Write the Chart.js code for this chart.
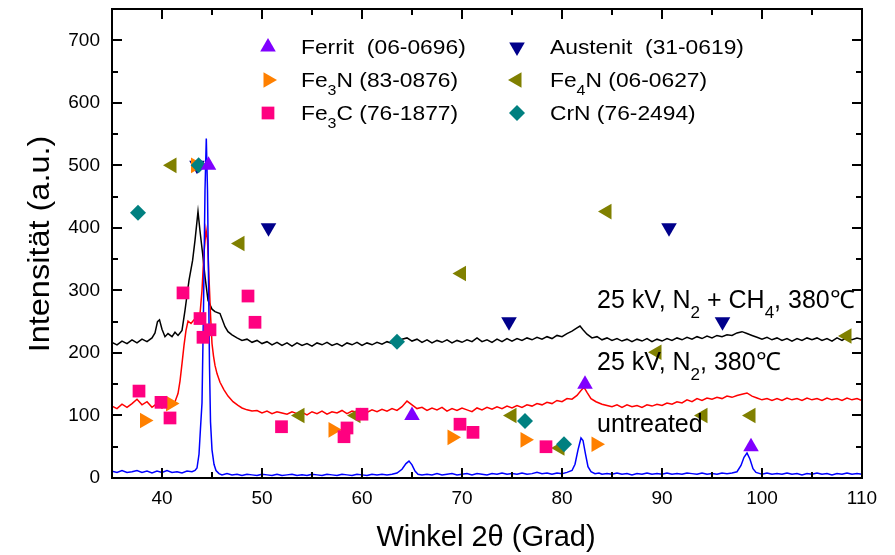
<!DOCTYPE html>
<html>
<head>
<meta charset="utf-8">
<script src="https://cdn.jsdelivr.net/npm/chart.js@4"></script>
<style>
  body { margin: 0; background: #fff; }
  canvas { display: block; }
</style>
</head>
<body>
<canvas id="xrd" width="895" height="555"></canvas>
<script>
const FONT = '"Liberation Sans", Arial, sans-serif';

// tick positions
const xTicks = [40, 50, 60, 70, 80, 90, 100, 110];
const xMinor = [35, 45, 55, 65, 75, 85, 95, 105];
const yTicks = [0, 100, 200, 300, 400, 500, 600, 700];
const yMinor = [50, 150, 250, 350, 450, 550, 650];

// measured curves [2theta, intensity]
const untreated = [
  [35,11],[35.5,9],[36,12],[36.5,9],[37,10],[37.5,12],[38,9],[38.5,11],[39,8],[39.5,11],[40,9],[40.5,12],[41,9],[41.5,10],[42,8],[42.5,11],[43,10],
  [43.3,12],[43.5,16],[43.7,38],[43.85,80],[44,120],[44.15,270],[44.3,460],[44.43,543],[44.55,460],[44.65,320],[44.75,180],[44.85,90],[45,45],[45.2,22],[45.4,12],[45.7,7],
  [46,5],[46.5,7],[47,5],[47.5,6],[48,4],[48.5,6],[49,5],[49.5,4],[50,6],[50.5,5],[51,4],[51.5,6],[52,4],[52.5,5],[53,6],[53.5,4],[54,5],[54.5,4],[55,6],
  [55.5,5],[56,4],[56.5,6],[57,5],[57.5,4],[58,6],[58.5,5],[59,4],[59.5,6],[60,5],[60.5,4],[61,6],[61.5,5],[62,6],[62.5,5],[63,6],[63.5,8],
  [64,14],[64.4,23],[64.7,27],[65,21],[65.3,11],[65.6,6],[66,5],[66.5,6],[67,5],[67.5,7],[68,5],[68.5,6],[69,7],[69.5,5],[70,6],[70.5,7],[71,5],
  [71.5,7],[72,6],[72.5,5],[73,7],[73.5,6],[74,8],[74.5,6],[75,7],[75.5,6],[76,8],[76.5,6],[77,7],[77.5,9],[78,7],[78.5,8],[79,6],[79.5,8],[80,7],[80.5,9],
  [81,12],[81.3,22],[81.6,45],[81.9,64],[82.1,60],[82.35,38],[82.6,18],[82.9,10],[83.3,7],[83.7,8],[84,6],[84.5,7],[85,6],[85.5,8],[86,6],[86.5,7],[87,5],
  [87.5,7],[88,6],[88.5,8],[89,6],[89.5,7],[90,6],[90.5,8],[91,6],[91.5,7],[92,6],[92.5,8],[93,7],[93.5,6],[94,8],[94.5,6],[95,7],[95.5,6],[96,8],[96.5,7],
  [97,8],[97.5,10],[97.9,20],[98.2,33],[98.5,40],[98.8,30],[99.1,15],[99.4,9],[99.8,7],[100,6],[100.5,8],[101,6],[101.5,7],[102,6],[102.5,8],[103,6],
  [103.5,7],[104,5],[104.5,7],[105,6],[105.5,8],[106,6],[106.5,7],[107,5],[107.5,7],[108,6],[108.5,8],[109,6],[109.5,7],[110,6]
];
const nitrided = [
  [35,115],[35.5,111],[36,118],[36.5,113],[37,119],[37.5,126],[38,117],[38.5,122],[39,113],[39.5,119],[40,112],[40.5,120],[41,115],[41.3,122],[41.6,135],
  [41.8,155],[42,183],[42.2,212],[42.4,236],[42.6,251],[42.9,247],[43.2,253],[43.5,255],[43.8,262],[44,300],[44.2,360],[44.4,397],[44.55,380],[44.7,320],
  [44.85,262],[45,215],[45.15,195],[45.3,180],[45.5,167],[45.8,153],[46.2,141],[46.6,131],[47.1,122],[47.6,116],[48,112],[48.5,109],[49,107],[49.5,108],
  [50,104],[50.5,107],[51,103],[51.5,106],[52,104],[52.5,102],[53,106],[53.5,103],[54,105],[54.5,101],[55,106],[55.5,103],[56,107],[56.5,102],[57,106],
  [57.5,104],[58,108],[58.5,103],[59,107],[59.5,105],[60,108],[60.5,105],[61,109],[61.5,106],[62,110],[62.5,107],[63,111],[63.5,108],[64,114],[64.5,123],
  [65,117],[65.5,111],[66,113],[66.5,108],[67,112],[67.5,109],[68,113],[68.5,107],[69,111],[69.5,108],[70,112],[70.5,109],[71,106],[71.5,112],[72,109],
  [72.5,113],[73,110],[73.5,114],[74,111],[74.5,115],[75,112],[75.5,116],[76,113],[76.5,117],[77,115],[77.5,119],[78,117],[78.5,121],[79,119],[79.5,124],
  [80,122],[80.5,127],[81,126],[81.5,132],[81.9,140],[82.2,145],[82.5,137],[82.9,127],[83.4,122],[84,118],[84.5,116],[85,114],[85.5,117],[86,113],
  [86.5,117],[87,114],[87.5,116],[88,113],[88.5,117],[89,115],[89.5,118],[90,116],[90.5,120],[91,118],[91.5,122],[92,120],[92.5,125],[93,122],[93.5,127],
  [94,124],[94.5,128],[95,126],[95.5,129],[96,127],[96.5,131],[97,129],[97.5,132],[98,134],[98.5,136],[99,131],[99.5,128],[100,125],[100.5,127],[101,124],
  [101.5,127],[102,124],[102.5,128],[103,125],[103.5,127],[104,124],[104.5,128],[105,125],[105.5,127],[106,124],[106.5,128],[107,125],[107.5,127],
  [108,124],[108.5,128],[109,125],[109.5,127],[110,124]
];
const carbonitrided = [
  [35,217],[35.5,213],[36,219],[36.5,215],[37,221],[37.5,216],[38,222],[38.5,218],[39,224],[39.3,232],[39.55,250],[39.75,253],[40,238],[40.3,226],
  [40.6,231],[41,226],[41.3,233],[41.6,228],[41.8,232],[42,236],[42.3,268],[42.7,316],[43.06,348],[43.3,380],[43.6,426],[43.8,395],[44.06,359],[44.3,322],
  [44.6,284],[45,270],[45.3,266],[45.8,263],[46.3,242],[46.6,234],[47,229],[47.5,224],[48,220],[48.5,222],[49,217],[49.5,220],[50,215],[50.5,218],[51,213],
  [51.5,217],[52,212],[52.5,216],[53,211],[53.5,216],[54,212],[54.5,215],[55,211],[55.5,216],[56,213],[56.5,217],[57,212],[57.5,215],[58,211],[58.5,216],
  [59,213],[59.5,217],[60,212],[60.5,216],[61,213],[61.5,217],[62,214],[62.5,218],[63,215],[63.5,219],[64,222],[64.5,224],[65,219],[65.5,222],[66,217],
  [66.5,221],[67,216],[67.5,220],[68,217],[68.5,221],[69,216],[69.5,220],[70,217],[70.5,221],[71,218],[71.5,224],[72,218],[72.5,221],[73,217],[73.5,222],
  [74,218],[74.5,223],[75,219],[75.5,223],[76,220],[76.5,224],[77,221],[77.5,225],[78,222],[78.5,226],[79,223],[79.5,228],[80,226],[80.5,231],[81,235],
  [81.5,240],[81.8,243],[82.1,237],[82.5,230],[83,224],[83.5,226],[84,221],[84.5,224],[85,220],[85.5,223],[86,219],[86.5,222],[87,218],[87.5,222],
  [88,219],[88.5,223],[89,218],[89.5,222],[90,219],[90.5,223],[91,220],[91.5,224],[92,221],[92.5,225],[93,222],[93.5,226],[94,223],[94.5,227],[95,224],
  [95.5,228],[96,226],[96.5,229],[97,228],[97.5,232],[98,234],[98.5,231],[99,228],[99.5,225],[100,222],[100.5,225],[101,221],[101.5,224],[102,220],
  [102.5,223],[103,219],[103.5,223],[104,220],[104.5,224],[105,221],[105.5,224],[106,220],[106.5,223],[107,219],[107.5,224],[108,220],[108.5,225],
  [109,221],[109.5,224],[110,222]
];

// reference reflections (PDF cards), scaled as in the plot
const ferrit   = [[44.65,500],[65.0,100],[82.3,150],[98.9,50]];
const austenit = [[43.5,500],[50.65,400],[74.7,250],[90.7,400],[96.05,250]];
const fe3n     = [[38.25,92],[40.85,119],[43.35,500],[57.1,77],[69.0,65],[76.3,61],[83.4,54]];
const fe4n     = [[41.0,500],[47.8,375],[53.8,100],[59.4,100],[69.95,327],[75.0,100],[79.8,48],[84.5,426],[89.5,201],[94.1,100],[98.9,100],[108.5,227]];
const fe3c     = [[37.7,139],[39.9,121],[40.8,96],[42.1,296],[43.8,255],[44.1,225],[44.8,237],[48.6,291],[49.3,249],[51.95,82],
                  [58.5,80],[58.2,66],[60.0,102],[69.8,86],[71.1,73],[78.4,50]];
const crn      = [[37.6,424],[43.66,500],[63.5,218],[76.3,91],[80.2,54]];

const phaseNames = ['Ferrit  (06-0696)', 'Austenit  (31-0619)', 'Fe_3N (83-0876)', 'Fe_4N (06-0627)', 'Fe_3C (76-1877)', 'CrN (76-2494)'];
const curveNames = ['untreated', '25 kV, N_2, 380℃', '25 kV, N_2 + CH_4, 380℃'];

const pts = arr => arr.map(p => ({ x: p[0], y: p[1] }));

function curve(label, arr, color, order) {
  return { label, data: pts(arr), showLine: true, borderColor: color, borderWidth: 1.5,
           pointRadius: 0, tension: 0, order, legend: false };
}
function phase(label, arr, color, style, rotation, radius, order) {
  return { label, data: pts(arr), showLine: false, backgroundColor: color, borderColor: color,
           borderWidth: 0, pointStyle: style, rotation, pointRadius: radius, order, legend: true };
}

const datasets = [
  phase(phaseNames[0], ferrit,   '#8000ff', 'triangle', 0,   9, 1),
  phase(phaseNames[1], austenit, '#00008b', 'triangle', 180, 9, 6),
  phase(phaseNames[2], fe3n,     '#ff8000', 'triangle', 90,  9, 4),
  phase(phaseNames[3], fe4n,     '#808000', 'triangle', 270, 9, 5),
  phase(phaseNames[4], fe3c,     '#ff0080', 'rect',     0,   9, 3),
  phase(phaseNames[5], crn,      '#008080', 'rectRot',  0,   8, 2),
  curve(curveNames[0], untreated,     '#0000ff', 10),
  curve(curveNames[1], nitrided,      '#ff0000', 11),
  curve(curveNames[2], carbonitrided, '#000000', 12)
];

// text with _x subscripts, sx = horizontal stretch
function richText(ctx, text, x, y, size, sx = 1) {
  ctx.save();
  ctx.translate(x, y);
  ctx.scale(sx, 1);
  let cx = 0;
  text.split(/(_\w)/).forEach(p => {
    if (!p) return;
    if (p[0] === '_') {
      ctx.font = `${Math.round(size * 0.68)}px ${FONT}`;
      ctx.fillText(p[1], cx, size * 0.38);
      cx += ctx.measureText(p[1]).width;
    } else {
      ctx.font = `${size}px ${FONT}`;
      ctx.fillText(p, cx, 0);
      cx += ctx.measureText(p).width;
    }
  });
  ctx.restore();
}

// boxed frame with inward ticks on all four sides
const frame = {
  id: 'frame',
  afterDatasetsDraw(chart) {
    const { ctx, chartArea: a, scales: { x, y } } = chart;
    ctx.save();
    ctx.strokeStyle = '#000';
    ctx.lineWidth = 2;
    ctx.beginPath();
    const xt = (v, len) => {
      const px = Math.round(x.getPixelForValue(v));
      ctx.moveTo(px, a.bottom); ctx.lineTo(px, a.bottom - len);
      ctx.moveTo(px, a.top); ctx.lineTo(px, a.top + len);
    };
    const yt = (v, len) => {
      const py = Math.round(y.getPixelForValue(v));
      ctx.moveTo(a.left, py); ctx.lineTo(a.left + len, py);
      ctx.moveTo(a.right, py); ctx.lineTo(a.right - len, py);
    };
    xTicks.forEach(v => xt(v, 10));
    xMinor.forEach(v => xt(v, 6));
    yTicks.forEach(v => yt(v, 10));
    yMinor.forEach(v => yt(v, 6));
    ctx.stroke();
    ctx.strokeRect(a.left, a.top, a.right - a.left, a.bottom - a.top);
    ctx.restore();
  }
};

// legend, curve labels and axis titles
const texts = {
  id: 'texts',
  afterDraw(chart) {
    const { ctx } = chart;
    ctx.save();
    ctx.fillStyle = '#000';
    ctx.textBaseline = 'alphabetic';
    ctx.textAlign = 'left';

    const colX = [268, 517], rowY = [47, 80, 113];
    chart.data.datasets.filter(d => d.legend).forEach((d, i) => {
      const cx = colX[i % 2], cy = rowY[Math.floor(i / 2)];
      ctx.fillStyle = d.backgroundColor;
      Chart.helpers.drawPoint(ctx, { pointStyle: d.pointStyle, rotation: d.rotation, radius: d.pointRadius, borderWidth: 0 }, cx, cy);
      ctx.fillStyle = '#000';
      richText(ctx, d.label, cx + 33, cy + 7, 20, 1.14);
    });

    richText(ctx, curveNames[2], 597, 308, 25);
    richText(ctx, curveNames[1], 597, 370, 25);
    richText(ctx, curveNames[0], 597, 432, 25);

    ctx.font = `29px ${FONT}`;
    ctx.textAlign = 'center';
    ctx.textBaseline = 'middle';
    ctx.fillText('Winkel 2θ (Grad)', 486, 538);
    ctx.translate(41, 244);
    ctx.rotate(-Math.PI / 2);
    ctx.scale(1.12, 1);
    ctx.fillText('Intensität (a.u.)', 0, 0);
    ctx.restore();
  }
};

const tickFont = { family: FONT, size: 19 };

new Chart(document.getElementById('xrd'), {
  type: 'scatter',
  data: { datasets },
  plugins: [frame, texts],
  options: {
    responsive: false,
    animation: false,
    layout: { padding: { top: 8, right: 33, left: 0, bottom: 0 } },
    plugins: { legend: { display: false }, tooltip: { enabled: false } },
    scales: {
      x: {
        type: 'linear', min: 35, max: 110,
        afterFit: s => { s.height = 77; s.paddingLeft = 0; s.paddingRight = 0; },
        afterBuildTicks: s => { s.ticks = xTicks.map(v => ({ value: v })); },
        grid: { display: false, drawTicks: false, tickLength: 0 },
        border: { display: false },
        ticks: { font: tickFont, color: '#000', padding: 9, maxRotation: 0, autoSkip: false }
      },
      y: {
        type: 'linear', min: 0, max: 750,
        afterFit: s => { s.width = 112; s.paddingTop = 0; s.paddingBottom = 0; },
        afterBuildTicks: s => { s.ticks = yTicks.map(v => ({ value: v })); },
        grid: { display: false, drawTicks: false, tickLength: 0 },
        border: { display: false },
        ticks: { font: tickFont, color: '#000', padding: 12, autoSkip: false }
      }
    }
  }
});
</script>
</body>
</html>
